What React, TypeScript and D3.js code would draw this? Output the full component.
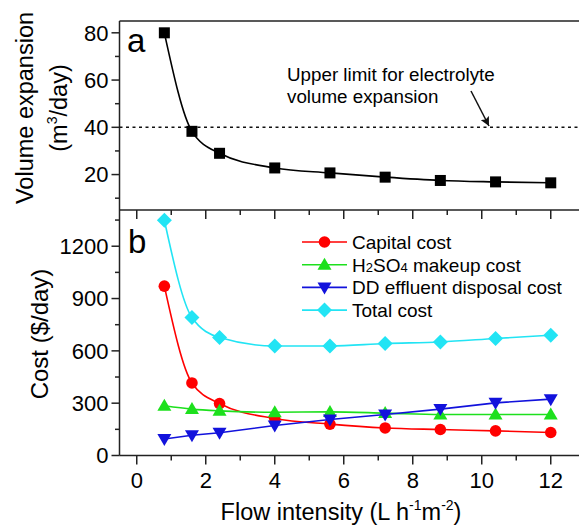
import React from 'react';
import * as d3 from 'd3';

const flow = [0.8, 1.6, 2.4, 4, 5.6, 7.2, 8.8, 10.4, 12];
const volume = [80, 38.3, 29, 22.8, 20.7, 18.9, 17.5, 16.9, 16.5];
const capital = [971, 416, 298, 212, 180, 158, 149, 141, 132];
const h2so4 = [285, 266, 256, 248, 250, 243, 235, 235, 235];
const effluent = [95, 116, 130, 172, 206, 235, 266, 302, 323];
const total = [1349, 791, 676, 628, 628, 642, 651, 671, 690];

const xTicks = [0, 2, 4, 6, 8, 10, 12];
const xMinor = [-1, 1, 3, 5, 7, 9, 11, 13];
const volTicks = [20, 40, 60, 80];
const volMinor = [10, 30, 50, 70];
const costTicks = [0, 300, 600, 900, 1200];
const costMinor = [150, 450, 750, 1050, 1350];
const limit = 40;

const W = 579;
const H = 526;
const left = 119.5;
const topA = 21;
const midY = 210;
const bottomB = 455.5;

const x = d3.scaleLinear().domain([-0.5, 13]).range([left, left + 13.5 * 34.5]);
const yA = d3.scaleLinear().domain([5, 85]).range([midY, topA]);
const yB = d3.scaleLinear().domain([0, 1400]).range([bottomB, bottomB - 1400 * 0.1744]);

const font = 'Liberation Sans, Arial, Helvetica, sans-serif';
const axisColor = '#222';

type Series = { name: string; values: number[]; color: string; marker: string; curve: d3.CurveFactory };

const series: Series[] = [
  { name: 'Capital cost', values: capital, color: '#f00', marker: 'circle', curve: d3.curveMonotoneX },
  { name: 'H2SO4 makeup cost', values: h2so4, color: '#1de01d', marker: 'up', curve: d3.curveMonotoneX },
  { name: 'DD effluent disposal cost', values: effluent, color: '#1212dc', marker: 'down', curve: d3.curveLinear },
  { name: 'Total cost', values: total, color: '#22e4f4', marker: 'diamond', curve: d3.curveMonotoneX },
];

const Marker = ({ kind, cx, cy, color }: { kind: string; cx: number; cy: number; color: string }) => {
  if (kind === 'circle') return <circle cx={cx} cy={cy} r={5.8} fill={color} />;
  if (kind === 'square') return <rect x={cx - 5.5} y={cy - 5.5} width={11} height={11} fill={color} />;
  if (kind === 'up') return <path d={`M${cx},${cy - 7}L${cx + 7},${cy + 5}L${cx - 7},${cy + 5}Z`} fill={color} />;
  if (kind === 'down') return <path d={`M${cx},${cy + 7}L${cx + 7},${cy - 5}L${cx - 7},${cy - 5}Z`} fill={color} />;
  return <path d={`M${cx},${cy - 7.5}L${cx + 7.5},${cy}L${cx},${cy + 7.5}L${cx - 7.5},${cy}Z`} fill={color} />;
};

const legendLabel = (name: string) => {
  if (name.startsWith('H2SO4')) {
    return (
      <>
        H<tspan fontSize={13}>2</tspan>SO<tspan fontSize={13}>4</tspan> makeup cost
      </>
    );
  }
  return name;
};

export default function App() {
  const lineA = d3.line<number>().x((_, i) => x(flow[i])).y(d => yA(d)).curve(d3.curveMonotoneX);

  return (
    <svg width={W} height={H} style={{ position: 'fixed', left: 0, top: 0, background: '#fff' }} fontFamily={font}>
      <defs>
        <clipPath id="clip">
          <rect x={left} y={0} width={W - left} height={H} />
        </clipPath>
        <marker id="arrow" viewBox="0 0 10 10" refX="10" refY="5" markerWidth="9" markerHeight="9" orient="auto-start-reverse" markerUnits="userSpaceOnUse">
          <path d="M0,0L10,5L0,10L2,5Z" fill="#111" />
        </marker>
      </defs>

      {/* frames */}
      <line x1={left} x2={W} y1={topA} y2={topA} stroke={axisColor} strokeWidth={1.5} />
      <line x1={left} x2={W} y1={midY} y2={midY} stroke={axisColor} strokeWidth={1.5} />
      <line x1={left} x2={W} y1={bottomB} y2={bottomB} stroke={axisColor} strokeWidth={1.5} />
      <line x1={left} x2={left} y1={topA} y2={bottomB} stroke={axisColor} strokeWidth={1.5} />

      {/* panel a y axis */}
      {volTicks.map(t => (
        <g key={'va' + t}>
          <line x1={left - 8} x2={left} y1={yA(t)} y2={yA(t)} stroke={axisColor} strokeWidth={1.5} />
          <text x={left - 11} y={yA(t)} dy="0.36em" textAnchor="end" fontSize={22}>{t}</text>
        </g>
      ))}
      {volMinor.map(t => (
        <line key={'vm' + t} x1={left - 4.5} x2={left} y1={yA(t)} y2={yA(t)} stroke={axisColor} strokeWidth={1.5} />
      ))}

      {/* panel b y axis */}
      {costTicks.map(t => (
        <g key={'ca' + t}>
          <line x1={left - 8} x2={left} y1={yB(t)} y2={yB(t)} stroke={axisColor} strokeWidth={1.5} />
          <text x={left - 11} y={yB(t)} dy="0.36em" textAnchor="end" fontSize={22}>{t}</text>
        </g>
      ))}
      {costMinor.map(t => (
        <line key={'cm' + t} x1={left - 4.5} x2={left} y1={yB(t)} y2={yB(t)} stroke={axisColor} strokeWidth={1.5} />
      ))}

      {/* x ticks: bottom outward, panel b top inward */}
      <g clipPath="url(#clip)">
        {xTicks.map(t => (
          <g key={'x' + t}>
            <line x1={x(t)} x2={x(t)} y1={bottomB} y2={bottomB + 9} stroke={axisColor} strokeWidth={1.5} />
            <line x1={x(t)} x2={x(t)} y1={midY} y2={midY + 9} stroke={axisColor} strokeWidth={1.5} />
          </g>
        ))}
        {xMinor.map(t => (
          <g key={'xm' + t}>
            <line x1={x(t)} x2={x(t)} y1={bottomB} y2={bottomB + 5} stroke={axisColor} strokeWidth={1.5} />
            <line x1={x(t)} x2={x(t)} y1={midY} y2={midY + 5} stroke={axisColor} strokeWidth={1.5} />
          </g>
        ))}
      </g>
      {xTicks.map(t => (
        <text key={'xl' + t} x={x(t)} y={bottomB + 25} dy="0.36em" textAnchor="middle" fontSize={22}>{t}</text>
      ))}

      {/* axis titles */}
      <text transform="translate(33,108) rotate(-90)" textAnchor="middle" fontSize={23.5}>Volume expansion</text>
      <text transform="translate(67,108) rotate(-90)" textAnchor="middle" fontSize={23.5}>
        (m<tspan fontSize={14} dy={-10}>3</tspan><tspan dy={10}>/day)</tspan>
      </text>
      <text transform="translate(48,334) rotate(-90)" textAnchor="middle" fontSize={24}>Cost ($/day)</text>
      <text x={341} y={520} textAnchor="middle" fontSize={23.5}>
        Flow intensity (L h<tspan fontSize={14} dy={-10}>-1</tspan><tspan dy={10}>m</tspan><tspan fontSize={14} dy={-10}>-2</tspan><tspan dy={10}>)</tspan>
      </text>

      {/* panel letters */}
      <text x={127} y={52} fontSize={33}>a</text>
      <text x={128} y={253} fontSize={33}>b</text>

      {/* panel a */}
      <line x1={left} x2={W} y1={yA(limit)} y2={yA(limit)} stroke="#111" strokeWidth={1.5} strokeDasharray="3,3.5" />
      <text x={287} y={81} fontSize={18.8}>Upper limit for electrolyte</text>
      <text x={287} y={103} fontSize={18.8}>volume expansion</text>
      <line x1={471} y1={91} x2={489} y2={126} stroke="#111" strokeWidth={1.5} markerEnd="url(#arrow)" />
      <path d={lineA(volume) || ''} fill="none" stroke="#000" strokeWidth={1.6} />
      {volume.map((v, i) => (
        <Marker key={'a' + i} kind="square" cx={x(flow[i])} cy={yA(v)} color="#000" />
      ))}

      {/* panel b */}
      {series.map(s => {
        const ln = d3.line<number>().x((_, i) => x(flow[i])).y(d => yB(d)).curve(s.curve);
        return (
          <g key={s.name}>
            <path d={ln(s.values) || ''} fill="none" stroke={s.color} strokeWidth={1.6} />
            {s.values.map((v, i) => (
              <Marker key={i} kind={s.marker} cx={x(flow[i])} cy={yB(v)} color={s.color} />
            ))}
          </g>
        );
      })}

      {/* legend */}
      {series.map((s, i) => {
        const ly = 242 + i * 22.7;
        return (
          <g key={'lg' + s.name}>
            <line x1={302} x2={347} y1={ly} y2={ly} stroke={s.color} strokeWidth={1.6} />
            <Marker kind={s.marker} cx={324.5} cy={ly} color={s.color} />
            <text x={352} y={ly} dy="0.36em" fontSize={19}>{legendLabel(s.name)}</text>
          </g>
        );
      })}
    </svg>
  );
}
